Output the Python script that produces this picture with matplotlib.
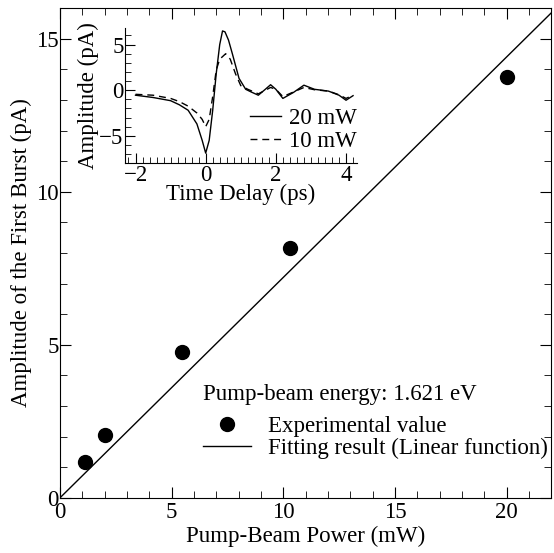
import numpy as np
import matplotlib
matplotlib.use("Agg")
import matplotlib.pyplot as plt
from matplotlib.ticker import MultipleLocator

plt.rcParams['font.family'] = ['Liberation Serif', 'DejaVu Serif']
plt.rcParams['font.size'] = 16.5

# ----- data -----
power = [1.12, 2.01, 5.45, 10.3, 20.0]
amplitude = [1.18, 2.07, 4.78, 8.16, 13.76]
fit_slope = 0.72
fit_x = [0, 22]

t_20 = [-2.0, -1.5, -1.0, -0.75, -0.5, -0.25, -0.1, 0.0, 0.1, 0.2, 0.3, 0.4, 0.48, 0.55,
        0.65, 0.76, 0.95, 1.14, 1.3, 1.5, 1.7, 1.85, 2.0, 2.2, 2.5, 2.8, 3.1, 3.5, 3.8, 4.0, 4.2]
a_20 = [-0.55, -0.8, -1.15, -1.6, -2.2, -3.7, -5.5, -6.9, -5.5, -2.2, 1.8, 5.0, 6.5, 6.4,
        5.5, 4.0, 1.3, 0.1, -0.2, -0.55, 0.1, 0.6, 0.1, -0.9, -0.25, 0.55, 0.1, -0.1, -0.55, -1.1, -0.6]
t_10 = [-2.0, -1.5, -1.0, -0.75, -0.5, -0.25, -0.1, 0.0, 0.1, 0.2, 0.3, 0.4, 0.57, 0.7,
        0.85, 1.0, 1.2, 1.5, 1.85, 2.0, 2.2, 2.5, 2.8, 3.1, 3.5, 3.8, 4.0, 4.2]
a_10 = [-0.45, -0.55, -0.9, -1.25, -1.75, -2.5, -3.2, -4.0, -3.2, -0.7, 2.2, 3.4, 4.0, 3.4,
        1.8, 0.5, 0.1, -0.4, 0.3, 0.1, -0.7, -0.2, 0.3, 0.05, -0.1, -0.5, -0.9, -0.55]

fig = plt.figure(figsize=(5.54, 5.53), dpi=100)

# ----- main plot -----
ax = fig.add_axes([0.108, 0.0995, 0.887, 0.886])
ax.plot(power, amplitude, 'o', color='black', markersize=10, label='Experimental value')
ax.plot(fit_x, [fit_slope * x for x in fit_x], '-', color='black', linewidth=1,
        label='Fitting result (Linear function)')
ax.set_xlim(0, 22)
ax.set_ylim(0, 16)
ax.xaxis.set_major_locator(MultipleLocator(5))
ax.xaxis.set_minor_locator(MultipleLocator(1))
ax.yaxis.set_major_locator(MultipleLocator(5))
ax.yaxis.set_minor_locator(MultipleLocator(1))
ax.tick_params(which='both', direction='in', top=True, right=True, pad=1)
ax.tick_params(axis='x', pad=3)
ax.tick_params(which='major', length=8)
ax.tick_params(which='minor', length=5)
ax.set_xlabel('Pump-Beam Power (mW)', labelpad=2)
ax.set_ylabel('Amplitude of the First Burst (pA)', labelpad=3)

ax.text(0.291, 0.211, 'Pump-beam energy: 1.621 eV', transform=ax.transAxes, va='center')
ax.legend(loc='center left', bbox_to_anchor=(0.291, 0.124), frameon=False,
          handlelength=2.1, handletextpad=0.75, borderaxespad=0, borderpad=0,
          labelspacing=0.05)

# ----- inset -----
ins = fig.add_axes([0.2256, 0.705, 0.418, 0.244])
ins.plot(t_20, a_20, '-', color='black', linewidth=1, label='20 mW')
ins.plot(t_10, a_10, '--', dashes=(5, 3.5), color='black', linewidth=1, label='10 mW')
ins.set_xlim(-2.3, 4.3)
ins.set_ylim(-8, 6.8)
ins.spines['top'].set_visible(False)
ins.spines['right'].set_visible(False)
ins.xaxis.set_major_locator(MultipleLocator(2))
ins.xaxis.set_minor_locator(MultipleLocator(0.2))
ins.yaxis.set_major_locator(MultipleLocator(5))
ins.yaxis.set_minor_locator(MultipleLocator(1))
ins.tick_params(which='both', direction='in', pad=1)
ins.tick_params(which='major', length=7)
ins.tick_params(which='minor', length=4)
ins.set_xlabel('Time Delay (ps)', labelpad=-1)
ins.set_ylabel('Amplitude (pA)', labelpad=0)
ins.legend(loc='center right', bbox_to_anchor=(1.0, 0.244), frameon=False,
           handlelength=1.35, handletextpad=0.35, borderaxespad=0, borderpad=0,
           labelspacing=0.1)

fig.savefig('out.png', dpi=100)
